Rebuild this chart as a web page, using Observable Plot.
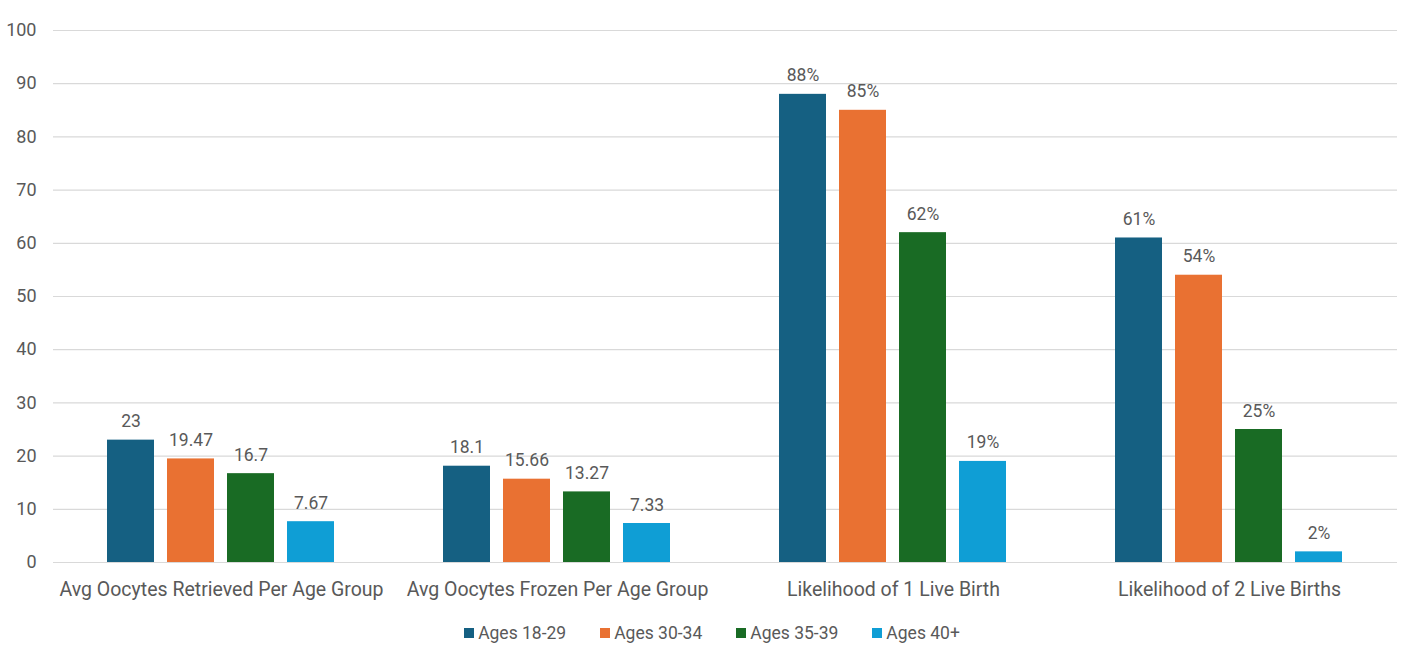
<!DOCTYPE html>
<html>
<head>
<meta charset="utf-8">
<script src="https://cdn.jsdelivr.net/npm/d3@7"></script>
<script src="https://cdn.jsdelivr.net/npm/@observablehq/plot@0.6"></script>
<style>
  html, body { margin: 0; padding: 0; background: #fff; }
  body { width: 1428px; height: 658px; overflow: hidden; font-family: Roboto, "Open Sans", sans-serif; }
  #legend { display: flex; justify-content: center; gap: 34px; margin-top: 13px; margin-left: -4px; font-size: 17.5px; color: #595959; line-height: 20px; }
  #legend .item { display: flex; align-items: center; gap: 4px; }
  #legend .sw { width: 10px; height: 10px; display: inline-block; }
</style>
</head>
<body>
<div id="chart"></div>
<div id="legend"></div>
<script>
const groups = [
  "Avg Oocytes Retrieved Per Age Group",
  "Avg Oocytes Frozen Per Age Group",
  "Likelihood of 1 Live Birth",
  "Likelihood of 2 Live Births"
];
const series = ["Ages 18-29", "Ages 30-34", "Ages 35-39", "Ages 40+"];
const ages18_29 = [23, 18.1, 88, 61];
const ages30_34 = [19.47, 15.66, 85, 54];
const ages35_39 = [16.7, 13.27, 62, 25];
const ages40plus = [7.67, 7.33, 19, 2];
const labelSuffix = ["", "", "%", "%"];
const yTicks = [0, 10, 20, 30, 40, 50, 60, 70, 80, 90, 100];

const colors = ["#156082", "#E97132", "#196B24", "#0F9ED5"];
const seriesValues = [ages18_29, ages30_34, ages35_39, ages40plus];

const data = [];
groups.forEach((g, gi) => {
  series.forEach((s, si) => {
    const v = seriesValues[si][gi];
    data.push({group: g, series: s, value: v, label: String(v) + labelSuffix[gi]});
  });
});

const plot = Plot.plot({
  width: 1428,
  height: 610,
  marginTop: 30,
  marginBottom: 48,
  marginLeft: 52,
  marginRight: 30,
  style: {fontFamily: "Roboto, 'Open Sans', sans-serif", color: "#595959", background: "#fff"},
  fx: {domain: groups, paddingInner: 0, paddingOuter: 0, label: null},
  x: {domain: series, paddingInner: 0.21, paddingOuter: 0.88, axis: null},
  y: {domain: [0, 100], label: null},
  color: {domain: series, range: colors},
  marks: [
    Plot.gridY(yTicks, {stroke: "#d9d9d9", strokeOpacity: 1, strokeWidth: 1.2}),
    Plot.axisY(yTicks, {tickSize: 0, tickPadding: 17, fontSize: 18, fill: "#595959", label: null}),
    Plot.axisFx({anchor: "bottom", tickSize: 0, tickPadding: 20, fontSize: 19.5, fill: "#595959", label: null}),
    Plot.barY(data, {fx: "group", x: "series", y: "value", fill: "series"}),
    Plot.text(data, {fx: "group", x: "series", y: "value", text: "label", lineAnchor: "bottom", dy: -13, fontSize: 17.5, fill: "#595959"})
  ]
});
document.getElementById("chart").appendChild(plot);

const legend = document.getElementById("legend");
series.forEach((s, i) => {
  const item = document.createElement("div");
  item.className = "item";
  const sw = document.createElement("span");
  sw.className = "sw";
  sw.style.background = colors[i];
  const t = document.createElement("span");
  t.textContent = s;
  item.appendChild(sw);
  item.appendChild(t);
  legend.appendChild(item);
});
</script>
</body>
</html>
